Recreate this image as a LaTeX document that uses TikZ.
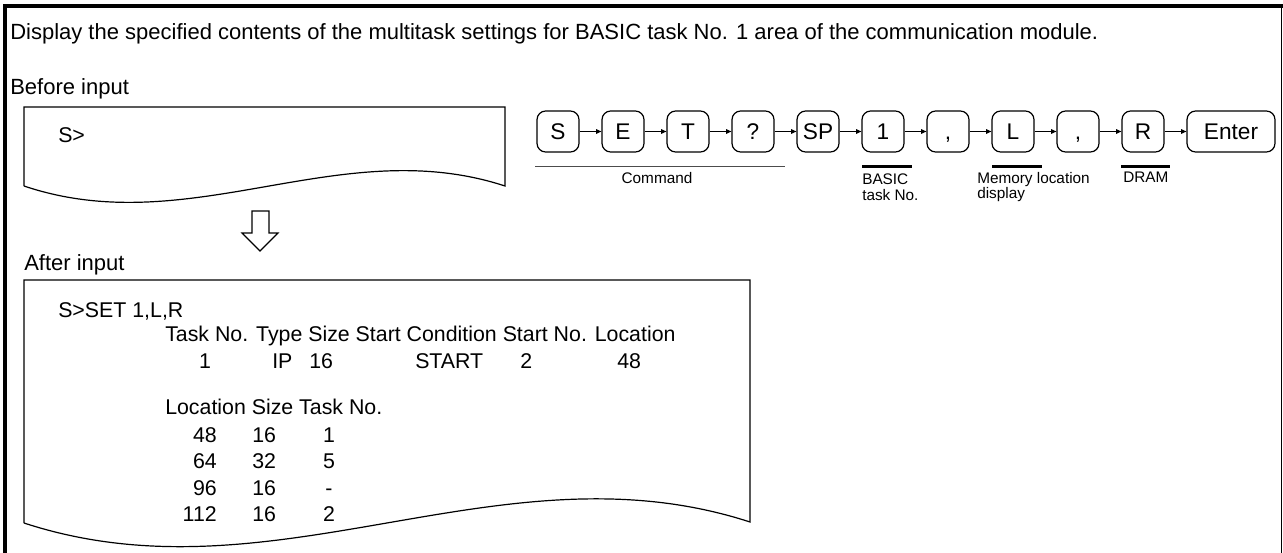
\documentclass[tikz,border=0pt]{standalone}
\usepackage{fontspec}
\setmainfont{Liberation Sans}
\usetikzlibrary{arrows.meta}
\begin{document}
\begin{tikzpicture}[x=0.75pt,y=-0.75pt,
  txt/.style={anchor=base west,inner sep=0pt,font=\fontsize{16.5}{18}\selectfont},
  term/.style={anchor=base west,inner sep=0pt,font=\fontsize{16}{18}\selectfont},
  termr/.style={anchor=base east,inner sep=0pt,font=\fontsize{16}{18}\selectfont},
  termc/.style={anchor=base,inner sep=0pt,font=\fontsize{16}{18}\selectfont},
  keybox/.style={draw,line width=0.9pt,rounded corners=6.5pt,minimum width=31.5pt,minimum height=30.75pt,inner sep=0pt,text height=12.2pt,text depth=0pt,font=\fontsize{17}{18}\selectfont},
  keyarrow/.style={line width=0.8pt,-{Triangle[length=4pt,width=3.5pt]}},
  lbl/.style={inner sep=0pt,font=\fontsize{11.5}{11.5}\selectfont},
  uline/.style={line width=1.6pt},
  cline/.style={line width=1pt,black!70},
  paper/.style={draw,line width=0.9pt},
  thick frame/.style={line width=3pt}
]
\useasboundingbox (0,0) rectangle (1283,553);
% outer frame
\draw[thick frame] (4.5,553) -- (4.5,6) -- (1283,6);
\draw[line width=1.2pt] (1281.5,6) -- (1281.5,553);

% title
\node[txt] (title) at (10,40) {Display the specified contents of the multitask settings for BASIC task No. 1 area of the communication module.};
\node[txt] (before) at (10,94) {Before input};

% before box
\draw[paper] (24,186) -- (24,107) -- (505,107) -- (505,186)
  .. controls (340,132) and (190,242) .. (24,186);
\node[term] (sprompt) at (58,142) {S>};

% hollow arrow
\draw[line width=0.9pt,fill=white] (252,211) -- (269,211) -- (269,233) -- (278,233)
  -- (260,251) -- (242,233) -- (252,233) -- cycle;

\node[txt] (after) at (24,270) {After input};

% after box
\draw[paper] (24,523) -- (24,280) -- (750,280) -- (750,522)
  .. controls (501,441) and (274.5,605) .. (24,523);

\node[term] (l1) at (58,317) {S>SET 1,L,R};
\node[term] (l2) at (165,341) {Task No. Type Size Start Condition Start No. Location};
\node[termc] (r1a) at (205,368) {1};
\node[term] (r1b) at (272,368) {IP};
\node[term] (r1c) at (309,368) {16};
\node[term] (r1d) at (415,368) {START};
\node[term] (r1e) at (520,368) {2};
\node[term] (r1f) at (617,368) {48};
\node[term] (l4) at (165,414) {Location Size Task No.};
\node[termr] (t1a) at (217,442) {48};
\node[term]  (t1b) at (252,442) {16};
\node[termc] (t1c) at (329,442) {1};
\node[termr] (t2a) at (217,468) {64};
\node[term]  (t2b) at (252,468) {32};
\node[termc] (t2c) at (329,468) {5};
\node[termr] (t3a) at (217,495) {96};
\node[term]  (t3b) at (252,495) {16};
\node[termc] (t3c) at (329,495) {-};
\node[termr] (t4a) at (217,521) {112};
\node[term]  (t4b) at (252,521) {16};
\node[termc] (t4c) at (329,521) {2};

% keys
\node[keybox] (kS)  at (558,131.5) {S};
\node[keybox] (kE)  at (623,131.5) {E};
\node[keybox] (kT)  at (688,131.5) {T};
\node[keybox] (kQ)  at (753,131.5) {?};
\node[keybox] (kSP) at (818,131.5) {SP};
\node[keybox] (k1)  at (883,131.5) {1};
\node[keybox] (kC1) at (948,131.5) {,};
\node[keybox] (kL)  at (1013,131.5) {L};
\node[keybox] (kC2) at (1078,131.5) {,};
\node[keybox] (kR)  at (1143,131.5) {R};
\node[keybox,minimum width=66pt] (kEnter) at (1231,131.5) {Enter};
\draw[keyarrow] (kS) -- (kE);
\draw[keyarrow] (kE) -- (kT);
\draw[keyarrow] (kT) -- (kQ);
\draw[keyarrow] (kQ) -- (kSP);
\draw[keyarrow] (kSP) -- (k1);
\draw[keyarrow] (k1) -- (kC1);
\draw[keyarrow] (kC1) -- (kL);
\draw[keyarrow] (kL) -- (kC2);
\draw[keyarrow] (kC2) -- (kR);
\draw[keyarrow] (kR) -- (kEnter);

% underlines and labels
\draw[cline] (535,166.5) -- (785,166.5);
\draw[uline] (862,166.5) -- (912,166.5);
\draw[uline] (992,166.5) -- (1042,166.5);
\draw[uline] (1121,166.5) -- (1170,166.5);
\node[lbl,anchor=base] (cmd) at (657,183) {Command};
\node[lbl,anchor=north west,align=left] (basic) at (862,174) {BASIC\\task No.};
\node[lbl,anchor=north west,align=left] (memloc) at (977,172) {Memory location\\display};
\node[lbl,anchor=north west] (dram) at (1123,172) {DRAM};
\end{tikzpicture}
\end{document}
